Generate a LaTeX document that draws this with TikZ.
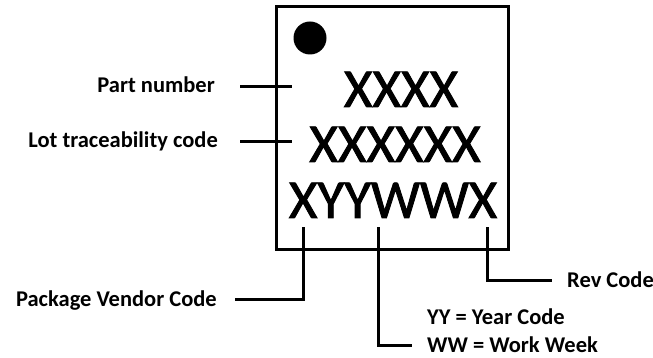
\documentclass[tikz,border=0pt]{standalone}
\usepackage{fontspec}
\setmainfont{Carlito}
\newfontfamily\markfont[FakeBold=1.6]{Carlito}
\usetikzlibrary{positioning}

\begin{document}
\begin{tikzpicture}[x=1pt, y=-1pt,
lbl/.style={font=\fontsize{22.5}{24}\selectfont\bfseries,inner sep=0pt},
big/.style={font=\markfont\fontsize{55}{58}\selectfont,inner sep=0pt},
lead/.style={line width=3pt}]
\useasboundingbox (0,0) rectangle (653,358);
% package outline and pin 1 mark
\node[draw,line width=3pt,outer sep=0pt,minimum width=232pt,minimum height=242pt,anchor=north west] (chip) at (276,7) {};
\node[circle,fill,inner sep=0pt,minimum size=33pt] (dot) at (310,38) {};
% marking lines
\node[big,anchor=base] (part) at (401,107) {XXXX};
\node[big,anchor=base] (lot) at (395,162) {XXXXXX};
\node[big,anchor=base] (date) at (393,218) {XYYWWX};
% labels
\node[lbl,anchor=base east] (partlbl) at (215,93) {Part number};
\node[lbl,anchor=base east] (lotlbl) at (218,148) {Lot traceability code};
\node[lbl,anchor=base east] (vendlbl) at (217,306) {Package Vendor Code};
\node[lbl,anchor=base west] (revlbl) at (567,287) {Rev Code};
\node[lbl,anchor=base west] (yylbl) at (427,324) {YY = Year Code};
\node[lbl,anchor=base west] (wwlbl) at (427,352) {WW = Work Week};
% tick ends inside the package
\coordinate (p1) at (292,87);
\coordinate (p2) at (292,142);
\coordinate (t1) at (303,227);
\coordinate (t2) at (378,227);
\coordinate (t3) at (487,227);
% leaders
\draw[lead] ([xshift=-52pt]p1) -- (p1);
\draw[lead] ([xshift=-52pt]p2) -- (p2);
\draw[lead] (t1) |- ([xshift=18pt]vendlbl.east |- 0,299);
\draw[lead] (t2) |- ([xshift=-15pt]wwlbl.west |- 0,345);
\draw[lead] (t3) |- ([xshift=-15pt]revlbl.west |- 0,280);
\end{tikzpicture}
\end{document}
